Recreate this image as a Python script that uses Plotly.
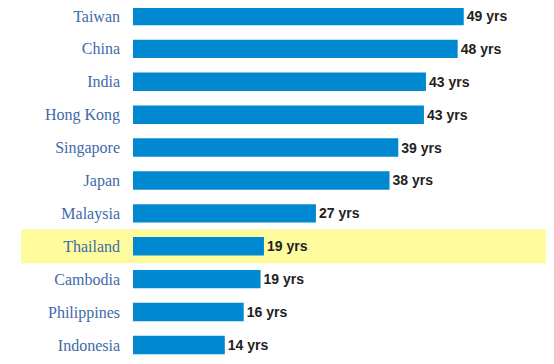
import plotly.graph_objects as go

countries = ["Taiwan", "China", "India", "Hong Kong", "Singapore", "Japan",
             "Malaysia", "Thailand", "Cambodia", "Philippines", "Indonesia"]
years = [49.0, 48.1, 43.4, 43.1, 39.3, 38.0, 27.1, 19.4, 18.9, 16.4, 13.6]
labels = [f"{round(v)} yrs" for v in years]
highlight = "Thailand"

fig = go.Figure()
fig.add_trace(go.Bar(
    y=countries, x=years, orientation="h",
    marker=dict(color="#0088D1", line=dict(width=0)),
    width=0.56,
    text=labels, textposition="outside",
    textfont=dict(family="Liberation Sans, Arial", size=14, color="#222222", weight="bold"),
    cliponaxis=False,
))

hi = countries.index(highlight)
fig.add_shape(type="rect", xref="paper", yref="y",
              x0=(13 - 125) / 405, x1=(540 - 125) / 405,
              y0=hi - 0.52, y1=hi + 0.52,
              fillcolor="#FFFC9E", line=dict(width=0), layer="below")

fig.update_layout(
    width=546, height=356,
    margin=dict(l=125, r=16, t=0, b=0, autoexpand=False),
    paper_bgcolor="white", plot_bgcolor="rgba(0,0,0,0)",
    showlegend=False,
    bargap=0.44,
)
fig.update_xaxes(range=[0, 60], visible=False, automargin=False)
fig.update_yaxes(range=[10.58, -0.243], showgrid=False, zeroline=False,
                 showline=False, ticks="", ticklabelstandoff=12, automargin=False,
                 tickfont=dict(family="Liberation Serif, DejaVu Serif, serif", size=16, color="#4169A8"))

fig.write_html("out.html")
